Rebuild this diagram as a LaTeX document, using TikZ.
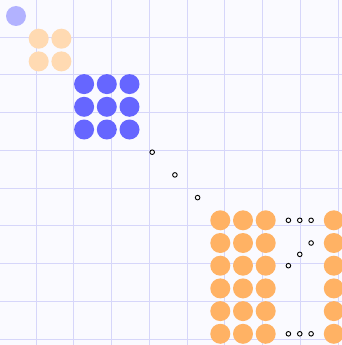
\documentclass[tikz,border=0pt]{standalone}
\usepackage{xcolor}
\usepackage{tikz}
\definecolor{bg}{RGB}{250,250,255}
\definecolor{gl}{RGB}{214,214,250}
\definecolor{c1}{RGB}{178,178,255}
\definecolor{c2}{RGB}{255,218,178}
\definecolor{c3}{RGB}{102,102,255}
\definecolor{c4}{RGB}{255,178,100}
\tikzset{ent/.style={circle,inner sep=0pt,minimum size=20pt,fill=#1},
  ent/.default=c4,
  skip/.style={circle,draw=black,fill=white,inner sep=0pt,minimum size=4.6pt,line width=0.9pt},
  gridline/.style={draw=gl,line width=1pt}}

\begin{document}
\begin{tikzpicture}[x=1pt,y=-1pt]
\fill[bg] (0,0) rectangle (342,345);
\useasboundingbox (0,0) rectangle (342,345);
% grid
\foreach \k in {0,...,8} {
  \draw[gridline] (36.2+37.75*\k,0) -- (36.2+37.75*\k,345);
  \draw[gridline] (0,37.2+37.75*\k) -- (342,37.2+37.75*\k);
}
\begin{scope}[xshift=16pt,yshift=-16pt,x=22.7pt,y=-22.7pt]
% diagonal blocks
\node[ent=c1] (a) at (0,0) {};
\foreach \i in {1,2} \foreach \j in {1,2} \node[ent=c2] (b\i\j) at (\j,\i) {};
\foreach \i in {3,4,5} \foreach \j in {3,4,5} \node[ent=c3] (c\i\j) at (\j,\i) {};
\node[skip] (d1) at (6,6) {};
\node[skip] (d2) at (7,7) {};
\node[skip] (d3) at (8,8) {};
% last block
\foreach \i in {9,...,14} {
  \foreach \j in {9,10,11} \node[ent] (e\i-\j) at (\j,\i) {};
  \node[ent] (e\i-14) at (14,\i) {};
}
\node[skip] (t1) at (12,9) {};
\node[skip] (t2) at (12.5,9) {};
\node[skip] (t3) at (13,9) {};
\node[skip] (m1) at (13,10) {};
\node[skip] (m2) at (12.5,10.5) {};
\node[skip] (m3) at (12,11) {};
\node[skip] (u1) at (12,14) {};
\node[skip] (u2) at (12.5,14) {};
\node[skip] (u3) at (13,14) {};
\end{scope}
\end{tikzpicture}
\end{document}
